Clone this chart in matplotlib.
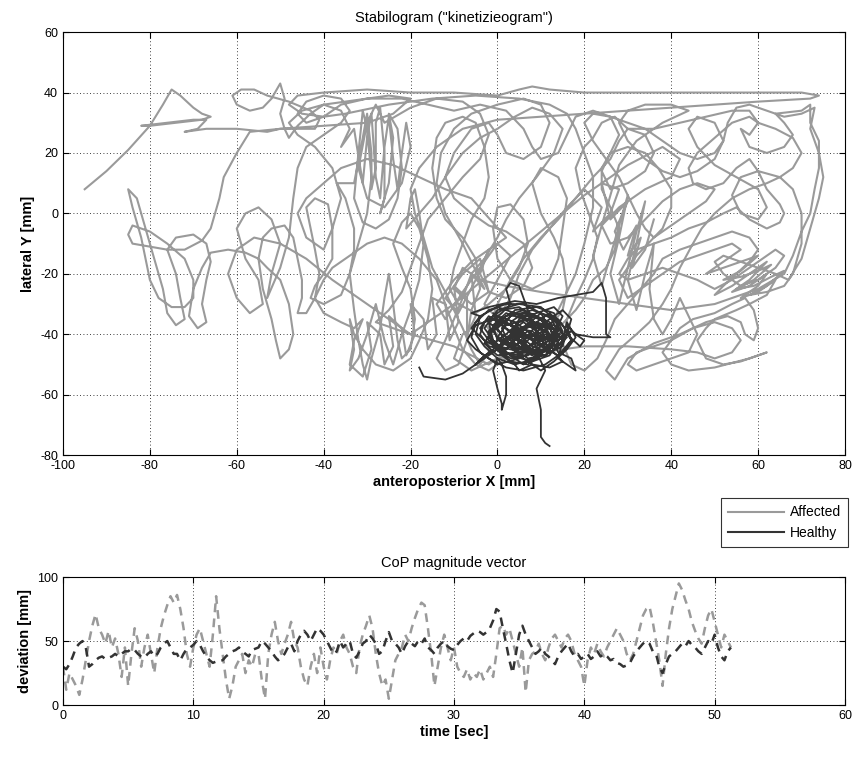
import numpy as np
import matplotlib.pyplot as plt
from matplotlib.lines import Line2D

GRAY = "#9a9a9a"
DARK = "#333333"

plt.rcParams["font.family"] = ["Liberation Sans", "DejaVu Sans"]
plt.rcParams["axes.unicode_minus"] = False

# --- stabilogram, affected side (x, y) in mm ---
aff_x = [
    -95, -90, -85, -80, -77, -75, -73, -70, -68, -66, -68, -74, -80, -82, -76, -70, -67,
    -69, -72, -67, -60, -53, -50, -46, -42, -41, -43, -48, -53, -56, -59, -61, -60, -57,
    -54, -52, -50, -49, -50, -49, -48, -46, -43, -40, -35, -30, -25, -20,
    -24, -30, -40, -50, -57, -60, -63, -64, -65, -66, -68, -72, -76, -80, -84, -85, -84,
    -80, -76, -72, -70, -70, -72, -75, -78, -80, -81, -82, -84, -85, -83, -81, -79, -77,
    -76, -74, -72, -73, -74, -76, -74, -70, -67, -66, -67, -68, -67, -69, -71, -70, -68,
    -66, -62, -58, -55, -53,
    -50, -48, -47, -48, -50, -51, -52, -54, -55, -54, -52, -49, -47, -46, -45, -45, -46,
    -44, -42, -41, -42, -43, -44, -42, -39, -38, -38, -40, -42, -43, -40, -36, -34, -33,
    -33, -35, -37,
    -33, -31, -30, -29, -29, -28, -28, -27, -26, -26, -27, -25, -24, -25, -23, -22, -23,
    -25, -28, -31, -33, -32, -31, -30, -29, -30, -32, -34, -33, -32, -31, -30, -29, -27,
    -26, -25, -24, -23, -22, -20, -19, -20, -22, -24, -22, -20, -18, -16, -15, -16, -18,
    -20, -24, -28, -31, -33, -34, -33, -34, -32, -30, -28, -26, -24, -22, -20, -18, -17,
    -18, -19, -20, -21,
    -15, -12, -8, -4, 0, 4, 8, 12, 15, 13, 9, 5, 2, 0, -3, -6, -8, -10, -12, -14, -12,
    -9, -7, -6, -4, -5, -8, -12, -14, -15, -14, -12, -8, -5, -3, -2, -3, -6, -8, -10,
    -11, -9, -5, -2, 2, 5, 7, 6, 3, 0, -1, 0, 3, 8, 12, 14, 15, 16, 14, 10, 8, 10, 13,
    15, 16, 15, 12,
    18, 20, 22, 22, 20, 18, 16, 12, 5, -5, -15, -25, -35, -40, -45, -48, -46, -40, -30,
    -20, -10, 0, 5, 8, 12, 20, 30, 40, 50, 60, 70, 74, 72, 60, 50, 40, 30, 20, 10, 0,
    -8, -14, -18, -20,
    -19, -17, -15, -12, -10, -8, -6, -4, -2, -2, 0, 3, 6, 10, 14, 18, 22, 26, 28, 30, 27,
    24, 22, 20, 18, 19, 21, 23, 22, 20, 18, 16, 15, 17, 20, 23, 25, 27, 30, 33, 36, 38,
    42, 46, 50, 54, 58, 60, 58, 55, 52, 50, 54, 58, 62, 58, 54, 58, 62, 60, 56, 60, 64,
    62, 58,
    55, 50, 48, 46, 48, 52, 56, 60, 62, 58, 50, 44, 40, 38, 40, 42, 45, 50, 54, 57, 59,
    60, 59, 57, 56, 53, 48, 42, 36, 30, 27, 25, 28, 32, 35, 38, 40, 42, 45, 47, 50, 54,
    58, 62, 65, 68, 70, 68, 64, 60, 58, 54, 50, 46, 44, 45, 48, 52, 55, 58, 60, 62, 65,
    66, 65, 62, 58, 55, 52, 48, 44, 40, 36, 32, 30, 28, 30, 34, 38, 42, 46, 50, 54, 58,
    61, 64, 66, 64, 60, 56, 52, 50, 52, 56, 60, 64, 67,
    70, 72, 74, 75, 74, 72, 73, 70, 66, 62, 58, 55, 53, 52, 50, 46, 42, 38, 34, 30, 26,
    22, 20, 22, 25, 28, 30, 32, 34, 36, 38, 40, 40, 37, 34, 30, 26, 24, 24, 26, 28, 27,
    25, 22, 20,
    18, 14, 10, 6, 2, -2, -5, -8, -10, -12, -14, -18, -22, -26, -30, -35, -38, -40, -42,
    -40, -36, -33, -31,
]
aff_y = [
    8, 14, 21, 29, 36, 41, 39, 35, 33, 32, 31, 30, 29, 29, 30, 31, 31,
    28, 27, 28, 28, 27, 28, 28, 28, 31, 34, 37, 39, 41, 41, 39, 36, 34,
    35, 38, 43, 38, 33, 28, 25, 29, 33, 36, 37, 38, 39, 38,
    33, 30, 29, 28, 27, 20, 12, 5, 0, -5, -9, -12, -12, -11, -10, -7, -4,
    -6, -10, -15, -22, -28, -31, -31, -28, -22, -15, -8, 2, 8, 5, -5, -15, -25,
    -33, -37, -35, -28, -20, -12, -8, -7, -10, -16, -22, -30, -36, -38, -34, -25, -18,
    -13, -12, -13, -15, -18,
    -22, -30, -40, -45, -48, -42, -35, -25, -15, -8, -5, -4, -8, -15, -22, -28, -33,
    -33, -28, -20, -12, -5, 2, 5, 3, -5, -15, -20, -24, -28, -30, -27, -20, -12,
    -5, 5, 10,
    10, 25, 33, 20, 8, 15, 30, 35, 20, 5, 0, 10, 25, 33, 28, 15, 5,
    -2, -5, -3, 5, 20, 34, 28, 12, 0, -10, -20, -32, -42, -50, -55, -48, -38,
    -28, -20, -30, -42, -48, -45, -35, -25, -18, -10, -3, 0, -5, -15, -25, -35, -42,
    -48, -52, -50, -45, -40, -35, -45, -52, -48, -40, -30, -42, -50, -40, -32, -22, -10,
    0, 8, 5, -5,
    5, 12, 20, 25, 28, 32, 35, 33, 28, 20, 12, 5, -2, -8, -15, -20, -28, -35, -42, -48, -52,
    -50, -42, -32, -25, -15, -8, -2, 5, 15, 25, 30, 32, 30, 22, 12, 5, -2, -10, -18,
    -25, -30, -33, -30, -25, -18, -10, -2, 3, 2, -5, -15, -22, -25, -22, -15, -5, 5, 12, 15, 10, 0, -8,
    -15, -25, -32, -38,
    -20, -10, 2, 12, 20, 28, 33, 36, 38, 39, 38, 36, 33, 32, 33, 36, 39, 40, 41,
    40, 40, 39, 41, 42, 41, 40, 40, 40, 40, 40, 40, 39, 38, 37, 36, 35, 34, 33, 32, 31,
    28, 22, 15, 8,
    0, -8, -18, -26, -32, -38, -45, -50, -46, -38, -30, -22, -15, -8, -2, 5, 12, 18, 24, 28, 32,
    30, 25, 22, 15, 8, 0, -8, -15, -22, -28, -35, -43, -50, -52, -48, -42, -35, -30, -25, -20, -15,
    -12, -10, -8, -6, -8, -12, -16, -20, -24, -27, -24, -20, -16, -22, -26, -24, -20, -24, -28, -26, -22,
    -27, -30,
    -32, -35, -38, -42, -48, -50, -49, -47, -46, -48, -51, -52, -50, -46, -42, -38, -35, -33, -30, -28, -32,
    -38, -42, -40, -36, -34, -36, -40, -43, -48, -55, -52, -45, -40, -36, -30, -25, -18, -10, -5, 0, 5,
    8, 10, 12, 15, 20, 25, 28, 30, 32, 30, 25, 20, 15, 10, 8, 10, 15, 18, 14, 8, 3,
    0, -3, -5, -2, 2, 0, -3, -5, -8, -10, -12, -15, -20, -22, -20, -18, -20, -22, -25, -22, -18,
    -15, -12, -14, -18, -22, -24, -20, -16, -14, -16, -18, -20, -22,
    -15, -5, 5, 12, 20, 28, 35, 33, 32, 34, 36, 35, 30, 24, 20, 18, 20, 24, 28, 30, 32,
    33, 30, 24, 18, 12, 6, 0, -5, -8, -5, 2, 8, 15, 20, 22, 20, 15, 8, 2, -5, -12,
    -18, -22, -28,
    -32, -38, -42, -45, -48, -52, -50, -45, -38, -30, -22, -15, -10, -8, -10, -15, -18, -22, -28,
    -33, -36, -38, -35,
]

# second half of the affected trace, continuing from the last point above
aff_more = [
    (-33, -42), (-34, -50), (-31, -54), (-29, -45), (-30, -36), (-27, -40), (-26, -50),
    (-24, -44), (-25, -34), (-22, -38), (-21, -47), (-19, -40), (-20, -30), (-17, -35),
    (-16, -45), (-14, -40), (-15, -28), (-12, -30), (-11, -42), (-9, -36), (-10, -24),
    (-7, -28), (-7, -40), (-5, -34), (-6, -20), (-3, -25),
    (-8, -10), (-12, 0), (-14, 10), (-13, 20), (-10, 28), (-6, 33), (0, 36), (6, 38),
    (10, 36), (12, 30), (10, 22), (6, 18), (2, 20), (0, 26), (-2, 30), (-6, 28),
    (-10, 20), (-12, 12), (-10, 5), (-6, 0), (-2, -4), (2, -6), (6, -10), (8, -18),
    (6, -24), (2, -28), (-2, -26), (-4, -20), (-2, -12), (2, -8),
    (-6, 5), (-12, 8), (-18, 12), (-24, 16), (-30, 18), (-36, 15), (-40, 10), (-44, 5),
    (-46, 0), (-44, -8), (-40, -12), (-38, -5), (-36, 5), (-38, 15), (-42, 22), (-46, 26),
    (-48, 30), (-45, 34), (-40, 36), (-36, 34), (-34, 28), (-36, 22),
    (-33, 28), (-31, 10), (-30, 25), (-29, 33), (-28, 12), (-27, 5), (-26, 22), (-25, 32),
    (-24, 18), (-23, 8), (-22, 20), (-21, 30), (-20, 22), (-22, 10), (-26, 2), (-30, 5),
    (-32, 15), (-30, 30), (-28, 36), (-26, 30),
    (-20, 35), (-14, 38), (-8, 37), (-4, 33), (-2, 26), (-4, 18), (-8, 12), (-12, 5),
    (-16, -2), (-18, -10), (-20, -18), (-22, -26), (-25, -32), (-28, -36),
    (-20, -40), (-10, -30), (0, -18), (10, -6), (20, 6), (30, 16), (38, 22), (42, 18),
    (40, 12), (34, 8), (28, 2), (24, -4), (26, -10), (30, -8), (34, -2), (38, 4),
    (42, 8), (46, 10), (50, 8), (48, 4), (44, 0), (40, -4), (36, -8), (32, -14),
    (28, -22), (30, -28), (34, -24), (38, -20), (42, -16), (46, -14), (50, -12), (54, -10),
    (56, -12), (52, -16), (48, -20), (52, -18), (56, -16), (60, -14), (56, -19), (52, -22),
    (56, -21), (60, -19), (63, -17), (59, -22), (55, -25), (59, -24), (63, -21), (66, -19),
    (62, -24), (58, -27), (62, -26), (66, -24),
    (68, -20), (70, -10), (70, 0), (68, 8), (65, 12), (60, 14), (56, 12), (54, 6),
    (56, 0), (60, -2), (62, 2), (60, 8), (55, 12), (50, 16), (46, 22), (44, 28),
    (46, 32), (50, 30), (52, 24), (50, 18), (46, 14), (42, 12), (38, 14), (34, 18),
    (30, 24), (28, 30), (30, 34), (34, 36), (40, 36), (44, 34),
    (38, 30), (32, 24), (28, 16), (26, 6), (24, -4), (22, -14), (24, -24), (26, -14),
    (28, -4), (30, 6), (28, -8), (26, -20), (28, -30), (30, -18), (32, -6), (34, 4),
    (32, -10), (30, -22), (32, -32), (34, -20), (36, -10), (35, -25), (36, -35), (38, -40),
    (40, -35), (42, -28), (44, -34), (46, -40), (44, -46), (40, -48), (36, -50), (32, -52),
    (30, -50), (32, -46), (36, -44), (40, -42), (45, -38), (50, -36), (54, -38), (56, -42),
    (54, -46), (50, -48), (46, -46),
    (40, -45), (30, -44), (20, -44), (10, -46), (0, -48), (-6, -52), (-10, -48), (-8, -40),
    (-4, -36), (0, -40), (2, -46), (-2, -50),
    (-10, -44), (-20, -40), (-30, -30), (-38, -22), (-44, -15), (-50, -10), (-56, -8),
    (-60, -12), (-62, -20), (-60, -28), (-57, -33), (-54, -30), (-55, -22), (-58, -15),
    (-60, -5), (-58, 0), (-55, 2), (-52, -2), (-50, -10), (-52, -20), (-53, -28),
    (-50, -18), (-48, -8), (-47, 5), (-46, 15), (-44, 22), (-40, 26), (-36, 30), (-34, 34),
    (-36, 38), (-40, 39), (-44, 37), (-46, 33), (-44, 30), (-40, 32), (-36, 36), (-30, 38),
    (-22, 38), (-16, 36), (-10, 34),
    (-4, 36), (2, 34), (6, 28), (8, 22), (10, 18), (14, 20), (16, 26), (18, 32),
    (22, 34), (26, 32), (28, 26), (26, 20), (24, 14), (26, 8), (30, 10), (34, 14),
    (36, 20), (34, 26), (30, 28),
    (36, 28), (42, 30), (48, 32), (54, 34), (58, 34), (60, 30), (58, 26), (56, 28),
    (58, 22), (62, 20), (66, 22), (68, 26), (66, 30), (64, 33), (70, 34), (72, 36),
    (72, 30), (74, 24), (74, 15), (73, 8), (72, 0), (70, -6), (68, -14), (66, -20),
    (60, -25), (50, -30), (40, -32), (30, -30), (20, -28), (10, -26), (2, -24), (-4, -22),
    (-8, -18), (-10, -25), (-6, -30), (-2, -26), (-4, -15), (-8, -20), (-12, -28), (-9, -33),
    (-5, -22), (-2, -12), (-6, -16), (-10, -22), (-14, -30), (-12, -35), (-8, -26), (-4, -18),
    (0, -10), (3, -14), (0, -22), (-3, -30), (0, -35), (3, -28), (5, -20), (8, -12),
    (12, -5), (16, 2), (20, 8), (24, 2), (22, -6), (26, 0), (28, 8), (24, 10),
    (26, -2), (30, 4), (27, -6), (29, -12), (32, -4), (30, -14), (33, -8), (31, -18),
    (34, -12), (36, -2),
]

# --- stabilogram, healthy side, as (x, y) pairs ---
hea_pts = [
    (-18, -51), (-17, -54), (-12, -55), (-8, -53), (-5, -50), (-3, -47), (0, -45), (2, -45),
    (6, -38), (10, -33), (14, -36), (12, -42), (6, -46), (0, -44), (-3, -38), (0, -32),
    (5, -30), (10, -31), (13, -35), (15, -40), (12, -47), (8, -49), (3, -47), (-1, -42),
    (-2, -36), (1, -33), (3, -30), (2, -25), (3, -23), (5, -24), (6, -28), (7, -32),
    (9, -39), (11, -44), (9, -48), (4, -50), (0, -48), (-1, -52), (0, -58), (1, -63),
    (1, -65), (2, -60), (2, -54), (1, -50), (0, -48), (-3, -44), (-5, -40), (-4, -34),
    (-6, -33), (-2, -31), (4, -29), (9, -30), (14, -28), (18, -27), (22, -26), (24, -23),
    (25, -28), (25, -35), (25, -40), (26, -41), (22, -41), (18, -40), (16, -37), (17, -42),
    (15, -46), (11, -50), (6, -52), (2, -51), (-2, -48), (-5, -45), (-7, -42), (-5, -37),
    (-1, -35), (3, -37), (6, -41), (4, -44), (0, -41), (2, -37), (7, -35), (11, -38),
    (12, -43), (10, -46), (6, -44), (3, -40), (5, -35), (9, -33), (13, -31), (15, -34),
    (13, -40), (9, -43), (5, -39), (1, -35), (-2, -39), (-1, -44), (3, -48), (7, -47),
    (11, -43), (14, -39), (12, -34), (8, -32), (3, -34), (0, -38), (2, -43), (6, -48),
    (10, -52), (13, -49), (16, -45), (18, -41), (16, -36), (14, -48), (16, -50), (18, -52),
    (17, -48), (14, -46), (12, -40), (8, -36), (4, -33), (0, -31), (-4, -34), (-6, -38),
    (-3, -42), (2, -46), (6, -50), (10, -46), (14, -43), (12, -38), (8, -36), (4, -39),
    (1, -44), (-3, -48), (-5, -50), (-2, -46), (3, -41), (8, -37), (12, -33), (15, -37),
    (17, -42), (14, -47), (10, -44), (6, -40), (2, -36), (-1, -33), (1, -37), (5, -42),
]
hea_core = [
    (9, -46), (5, -44), (1, -40), (-2, -36), (0, -34), (4, -36), (8, -40), (11, -45),
    (13, -42), (12, -37), (9, -34), (6, -32), (2, -34), (-1, -38), (-3, -43), (0, -47),
    (4, -46), (7, -42), (10, -38), (14, -35), (16, -39), (15, -44), (12, -46), (8, -44),
    (5, -40), (3, -36), (6, -33), (10, -35), (12, -40), (9, -43), (5, -45), (1, -43),
    (-1, -39), (1, -36), (5, -38), (8, -42), (10, -47), (7, -50), (3, -49), (0, -45),
    (2, -41), (6, -38), (9, -36), (13, -38), (15, -42), (13, -45), (10, -42), (7, -39),
    (4, -42), (2, -45), (-2, -44), (-4, -40), (-3, -36), (1, -32), (5, -31), (8, -34),
    (11, -36), (14, -40), (12, -44), (8, -47), (4, -44), (3, -39), (6, -36), (10, -40),
    (13, -43), (11, -47), (7, -45), (4, -40), (7, -37), (11, -39), (9, -42), (6, -40),
    (3, -43), (0, -42), (-1, -37), (2, -33), (6, -35), (9, -38), (12, -35), (15, -32),
    (17, -35), (16, -40), (19, -44), (20, -42), (17, -39), (14, -42), (11, -40), (8, -43),
    (5, -47), (1, -46), (-2, -42), (-4, -38), (-2, -34), (2, -38), (5, -41), (9, -40),
    (12, -38), (10, -33), (6, -30), (2, -30), (-2, -32), (-5, -36), (-6, -41), (-4, -46),
    (0, -50), (5, -48), (9, -45), (13, -46), (15, -49), (12, -51), (8, -50), (5, -52),
    (4, -50), (1, -47), (-1, -43), (2, -40), (5, -36), (9, -34), (12, -36), (14, -41),
    (12, -45), (9, -47), (6, -45), (3, -42), (4, -38), (8, -39), (11, -42), (10, -38),
    (7, -34), (3, -33), (0, -36), (-2, -41), (1, -45), (5, -43), (8, -40), (12, -42),
    (15, -39), (13, -33), (9, -31), (4, -32), (1, -38), (3, -44), (7, -48), (11, -47),
    (14, -44), (16, -41), (13, -37), (9, -37), (6, -42), (8, -46), (5, -46),
]
hea_tail = [
    (9, -46), (11, -52), (9, -58), (10, -65), (10, -70), (10, -74), (11, -76), (12, -77),
]

# --- CoP magnitude vector, sampled every 0.25 s ---
dt = 0.25
aff_dev = [
    30, 12, 25, 20, 15, 8, 20, 35, 50, 62, 71, 60, 55, 48, 58, 45, 52, 40, 22, 45,
    15, 40, 60, 50, 30, 45, 55, 40, 25, 45, 60, 70, 78, 85, 80, 86, 75, 60, 40, 30,
    45, 55, 60, 50, 40, 30, 55, 85, 60, 40, 20, 5, 15, 30, 35, 40, 25, 35, 30, 40,
    40, 20, 5, 40, 55, 65, 50, 40, 48, 55, 65, 50, 45, 30, 20, 15, 30, 40, 25, 45,
    30, 20, 35, 45, 40, 50, 55, 45, 40, 30, 25, 45, 55, 62, 70, 60, 40, 25, 15, 20,
    5, 20, 35, 40, 45, 55, 50, 60, 68, 75, 80, 78, 60, 40, 15, 30, 45, 55, 45, 35,
    45, 30, 25, 22, 28, 20, 25, 22, 28, 20, 25, 30, 22, 40, 60, 62, 55, 60, 50, 40,
    30, 45, 10, 35, 40, 42, 48, 40, 35, 45, 52, 55, 50, 45, 52, 55, 50, 40, 35, 30,
    15, 35, 45, 40, 48, 42, 38, 45, 50, 55, 60, 55, 50, 40, 35, 40, 50, 60, 70, 75,
    77, 65, 50, 35, 15, 40, 60, 75, 85, 95, 90, 82, 75, 65, 58, 52, 48, 60, 70, 75,
    65, 55, 45, 55, 50, 45,
]
hea_dev = [
    30, 28, 32, 38, 45, 48, 50, 45, 30, 32, 35, 37, 38, 36, 37, 38, 40, 38, 40, 42,
    42, 44, 43, 40, 38, 37, 40, 42, 38, 40, 45, 48, 50, 45, 40, 40, 35, 40, 44, 45,
    47, 50, 47, 42, 38, 35, 33, 34, 35, 35, 38, 40, 42, 43, 45, 42, 40, 38, 43, 44,
    45, 50, 48, 45, 42, 38, 35, 37, 40, 45, 48, 42, 50, 55, 58, 55, 50, 55, 60, 58,
    55, 50, 45, 40, 42, 50, 45, 48, 50, 40, 37, 42, 48, 50, 55, 52, 48, 40, 42, 50,
    57, 50, 48, 45, 40, 46, 50, 48, 46, 50, 48, 52, 45, 43, 40, 45, 48, 50, 46, 44,
    43, 47, 50, 52, 50, 54, 56, 58, 57, 55, 57, 60, 66, 75, 73, 60, 48, 35, 25, 40,
    55, 62, 55, 50, 45, 40, 42, 45, 40, 38, 35, 32, 38, 42, 45, 48, 42, 38, 40, 36,
    38, 40, 36, 38, 42, 38, 40, 38, 35, 36, 33, 32, 30, 31, 33, 38, 42, 45, 48, 50,
    48, 42, 40, 30, 25, 32, 38, 40, 42, 45, 48, 46, 50, 47, 45, 42, 40, 45, 50, 48,
    55, 45, 38, 35, 42, 45,
]


def matlab_axes(ax, title, xlabel, ylabel):
    ax.set_facecolor("white")
    for s in ax.spines.values():
        s.set_color("black")
        s.set_linewidth(0.8)
    ax.tick_params(direction="in", top=True, right=True, length=4,
                   labelsize=9, colors="black")
    ax.grid(True, color="black", ls=(0, (1, 3)), lw=0.6)
    ax.set_axisbelow(True)
    ax.set_title(title, fontsize=10.5, pad=7)
    ax.set_xlabel(xlabel, fontsize=10.5, fontweight="bold", labelpad=2)
    ax.set_ylabel(ylabel, fontsize=10.5, fontweight="bold", labelpad=4)


fig = plt.figure(figsize=(8.57, 7.74), dpi=100)
fig.patch.set_facecolor("white")

ax1 = fig.add_axes([0.0735, 0.412, 0.9125, 0.5465])
ax_all = list(aff_x) + [p[0] for p in aff_more]
ay_all = list(aff_y) + [p[1] for p in aff_more]
ax1.plot(ax_all, ay_all, color=GRAY, lw=1.5, solid_joinstyle="round")
hea = hea_pts + hea_core + hea_tail
ax1.plot([p[0] for p in hea], [p[1] for p in hea], color=DARK, lw=1.3,
         solid_joinstyle="round")
ax1.set_xlim(-100, 80)
ax1.set_ylim(-80, 60)
ax1.set_xticks(np.arange(-100, 81, 20))
ax1.set_yticks(np.arange(-80, 61, 20))
matlab_axes(ax1, 'Stabilogram ("kinetizieogram")',
            "anteroposterior X [mm]", "lateral Y [mm]")

ax2 = fig.add_axes([0.0735, 0.089, 0.9125, 0.1655])
t_aff = np.arange(len(aff_dev)) * dt
t_hea = np.arange(len(hea_dev)) * dt
ax2.plot(t_aff, aff_dev, color=GRAY, lw=1.8, ls=(0, (3.5, 2.5)))
ax2.plot(t_hea, hea_dev, color=DARK, lw=1.8, ls=(0, (3.5, 2.5)))
ax2.set_xlim(0, 60)
ax2.set_ylim(0, 100)
ax2.set_xticks(np.arange(0, 61, 10))
ax2.set_yticks([0, 50, 100])
matlab_axes(ax2, "CoP magnitude vector", "time [sec]", "deviation [mm]")

handles = [Line2D([], [], color=GRAY, lw=1.5), Line2D([], [], color=DARK, lw=1.5)]
leg = fig.legend(handles, ["Affected", "Healthy"], loc="upper right",
                 bbox_to_anchor=(0.989, 0.356), borderaxespad=0, fontsize=10,
                 frameon=True, fancybox=False, edgecolor="black", handlelength=4.0,
                 borderpad=0.5, labelspacing=0.5, handletextpad=0.4)
leg.get_frame().set_linewidth(0.8)

fig.savefig("out.png", dpi=100, facecolor="white")
